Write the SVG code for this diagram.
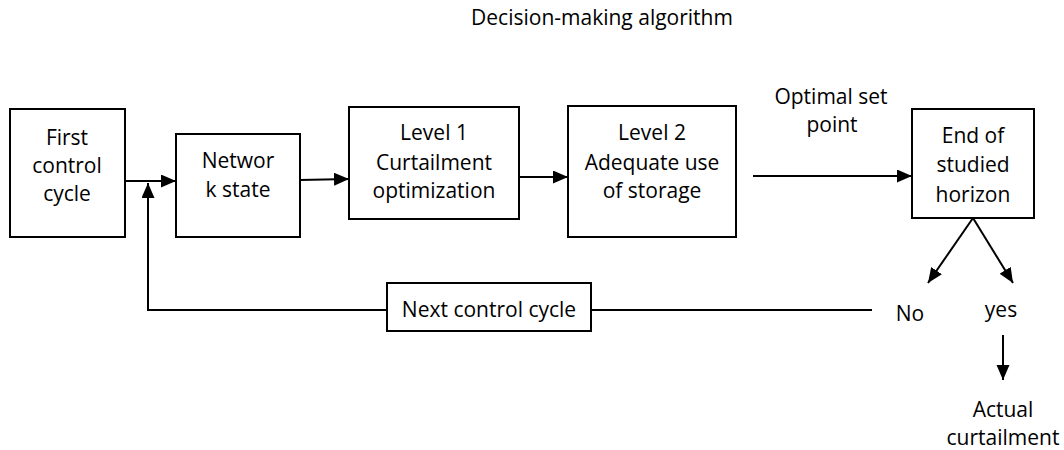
<svg xmlns="http://www.w3.org/2000/svg" width="1064" height="450" viewBox="0 0 1064 450">
<defs>
<style>
.box{fill:#fff;stroke:#000;stroke-width:2}
.ln{fill:none;stroke:#000;stroke-width:2}
.arr{marker-end:url(#ah)}
text{font-family:"Open Sans","Liberation Sans",sans-serif;font-size:21px;fill:#000;text-anchor:middle}
</style>
<marker id="ah" markerUnits="userSpaceOnUse" markerWidth="16" markerHeight="14" refX="15" refY="6.5" orient="auto">
<path d="M0,0 L15,6.5 L0,13 z" fill="#000"/>
</marker>
</defs>
<rect width="1064" height="450" fill="#fff"/>
<text x="602" y="25">Decision-making algorithm</text>
<g id="connectors">
<line class="ln arr" x1="125" y1="181" x2="176" y2="181"/>
<path class="ln" d="M872,310 L591,310"/>
<path class="ln arr" d="M387,310 L148,310 L148,183"/>
<line class="ln arr" x1="300" y1="180" x2="349" y2="179"/>
<line class="ln arr" x1="519" y1="177" x2="568" y2="177"/>
<line class="ln arr" x1="753" y1="176" x2="912" y2="176"/>
<line class="ln arr" x1="973" y1="218" x2="928" y2="283"/>
<line class="ln arr" x1="973" y1="218" x2="1013" y2="283"/>
<line class="ln arr" x1="1003" y1="335" x2="1003" y2="380"/>
</g>
<g id="n1"><rect class="box" x="10" y="109" width="115" height="128"/>
<text x="67" y="145">First</text><text x="67" y="173">control</text><text x="67" y="201">cycle</text></g>
<g id="n2"><rect class="box" x="176" y="134" width="124" height="103"/>
<text x="238" y="168">Networ</text><text x="238" y="197">k state</text></g>
<g id="n3"><rect class="box" x="349" y="107" width="170" height="112"/>
<text x="434" y="140">Level 1</text><text x="434" y="170">Curtailment</text><text x="434" y="198">optimization</text></g>
<g id="n4"><rect class="box" x="568" y="106" width="168" height="131"/>
<text x="652" y="140">Level 2</text><text x="652" y="170">Adequate use</text><text x="652" y="198">of storage</text></g>
<g id="n5"><rect class="box" x="912" y="109" width="122" height="109"/>
<text x="973" y="143">End of</text><text x="973" y="172">studied</text><text x="973" y="202">horizon</text></g>
<g id="n6"><rect class="box" x="387" y="283" width="204" height="48"/>
<text x="489" y="317">Next control cycle</text></g>
<g id="labels">
<text x="831" y="104">Optimal set</text><text x="832" y="132">point</text>
<text x="910" y="321">No</text><text x="1001" y="317">yes</text>
<text x="1003" y="417">Actual</text><text x="1003" y="445">curtailment</text>
</g>
</svg>
